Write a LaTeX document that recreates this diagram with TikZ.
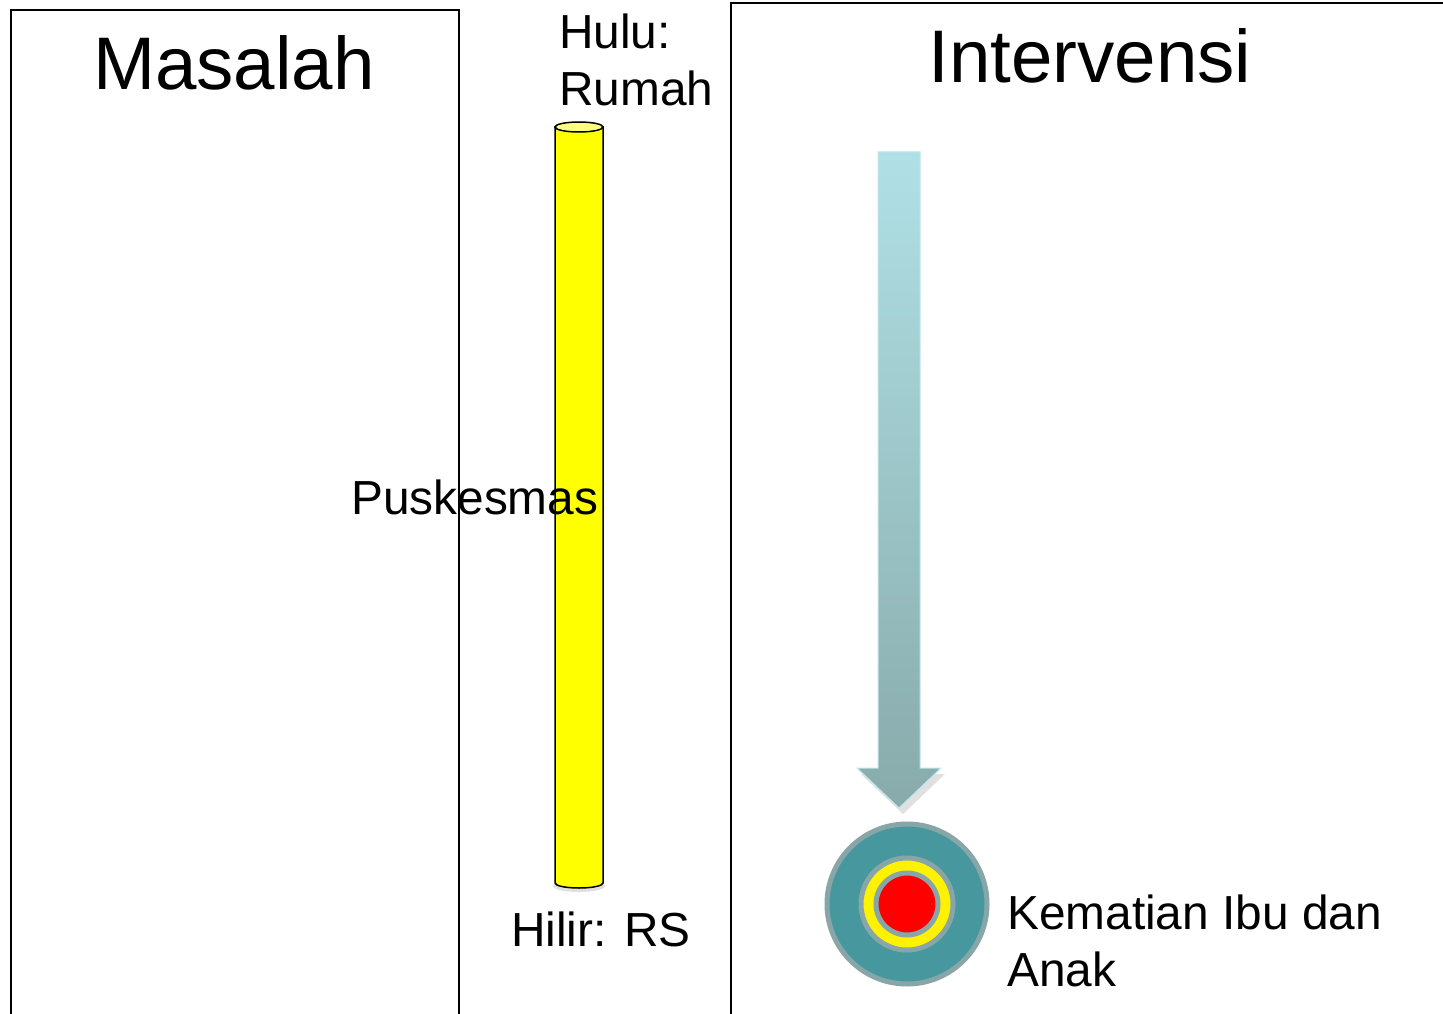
\documentclass[tikz,border=0pt]{standalone}
\usepackage{fontspec}
\setmainfont{Liberation Sans}
\begin{document}
\begin{tikzpicture}[x=1pt,y=-1pt,
  lbl/.style={font=\fontsize{47.8}{57}\selectfont, inner sep=0pt, anchor=base west, align=left},
  title/.style={font=\fontsize{74.5}{88}\selectfont, inner sep=0pt, anchor=base},
  panel/.style={draw=black, line width=2pt},
  ringline/.style={draw=ringgray, line width=5pt}]
\definecolor{cyl}{HTML}{FFFF00}
\definecolor{cyltop}{HTML}{FFFF80}
\definecolor{arrtop}{HTML}{B0E0E6}
\definecolor{arrbot}{HTML}{88AAAA}
\definecolor{teal}{HTML}{47989E}
\definecolor{ringgray}{HTML}{88A6A8}
\useasboundingbox (0,0) rectangle (1443,1014);
\fill[white] (0,0) rectangle (1443,1014);
% panels
\draw[panel] (11,1020) -- (11,10) -- (459,10) -- (459,1020);
\draw[panel] (731,1020) -- (731,3) -- (1450,3);
% cylinder
\fill[black!12] (579,886) ellipse (26 and 6);
\filldraw[fill=cyl, draw=black, line width=1.5pt]
  (555,127) -- (555,883) arc[start angle=180, end angle=0, x radius=24, y radius=5] -- (603,127) -- cycle;
\filldraw[fill=cyltop, draw=black, line width=1.5pt] (579,127) ellipse (24 and 5);
\node (cyl) at (579,505) {};
% arrow
\fill[black!12] (861,774) -- (945,774) -- (903,814) -- cycle;
\shade[top color=arrtop, bottom color=arrbot, draw=arrtop!80!white, line width=1pt]
  (878,152) -- (920,152) -- (920,768) -- (941,768) -- (899,808) -- (857,768) -- (878,768) -- cycle;
\coordinate (arrtip) at (899,808);
% target
\filldraw[fill=teal, ringline] (907,904) circle (80);
\filldraw[fill=yellow, ringline] (907,904) circle (46);
\filldraw[fill=red, ringline] (907,904) circle (31);
\node (target) at (907,904) {};
% texts
\node[title] (masalah) at (234,90) {Masalah};
\node[title] (intervensi) at (1090,83) {Intervensi};
\node[lbl] (hulu) at (559,49) {Hulu:};
\node[lbl] (rumah) at (559,106) {Rumah};
\node[lbl] (pusk) at (351,514) {Puskesmas};
\node[lbl] (hilir) at (511,946) {Hilir: RS};
\node[lbl] (kem) at (1007,929) {Kematian Ibu dan};
\node[lbl] (anak) at (1007,986) {Anak};
\end{tikzpicture}
\end{document}
